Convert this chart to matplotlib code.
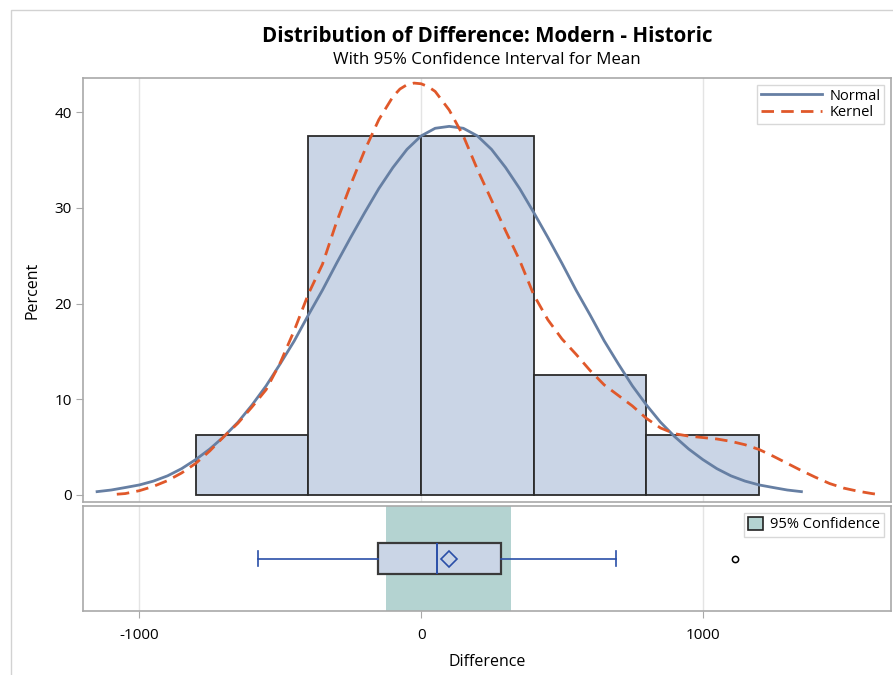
import matplotlib
matplotlib.use("Agg")
import matplotlib.pyplot as plt
from matplotlib.patches import Rectangle, Patch
from matplotlib.lines import Line2D

plt.rcParams['font.family'] = ['Open Sans', 'DejaVu Sans']

# histogram bins (left edges) and percent per bin
bin_left = [-800, -400, 0, 400, 800]
bin_width = 400
percent = [6.25, 37.5, 37.5, 12.5, 6.25]

# fitted normal curve (percent), every 50 units
normal_x = [-1150, -1100, -1050, -1000, -950, -900, -850, -800, -750, -700, -650, -600,
            -550, -500, -450, -400, -350, -300, -250, -200, -150, -100, -50, 0, 50, 100,
            150, 200, 250, 300, 350, 400, 450, 500, 550, 600, 650, 700, 750, 800, 850,
            900, 950, 1000, 1050, 1100, 1150, 1200, 1250, 1300, 1350]
normal_y = [0.35, 0.52, 0.78, 1.05, 1.45, 2.0, 2.75, 3.7, 4.8, 6.1, 7.6, 9.4,
            11.4, 13.7, 16.1, 18.8, 21.4, 24.2, 26.9, 29.5, 32.0, 34.2, 36.1, 37.5, 38.3,
            38.5, 38.3, 37.5, 36.1, 34.2, 32.0, 29.5, 26.9, 24.2, 21.4, 18.8, 16.1, 13.7,
            11.4, 9.4, 7.6, 6.1, 4.8, 3.7, 2.75, 2.0, 1.45, 1.05, 0.78, 0.52, 0.35]

# kernel density curve (percent)
kernel_x = [-1080, -1050, -1000, -950, -900, -850, -800, -750, -700, -650, -600, -550,
            -500, -450, -400, -350, -300, -250, -200, -150, -100, -75, -50, -25, 0, 25,
            50, 100, 150, 200, 250, 300, 350, 400, 450, 500, 550, 600, 650, 700, 750,
            800, 850, 900, 950, 1000, 1050, 1100, 1150, 1200, 1250, 1300, 1350, 1400,
            1450, 1500, 1550, 1600, 1620]
kernel_y = [0.08, 0.15, 0.45, 0.9, 1.5, 2.3, 3.3, 4.6, 6.1, 7.5, 9.2, 11.0,
            13.8, 17.2, 21.0, 24.1, 28.5, 32.4, 36.0, 39.2, 41.6, 42.4, 42.85, 43.02, 42.95,
            42.65, 42.15, 40.2, 37.5, 34.0, 30.8, 27.6, 24.5, 20.9, 18.3, 16.3, 14.7, 13.0,
            11.5, 10.4, 9.3, 8.0, 7.0, 6.4, 6.15, 6.0, 5.85, 5.6, 5.25, 4.75, 4.05, 3.3,
            2.55, 1.85, 1.2, 0.72, 0.4, 0.15, 0.07]

# box plot summary
box_stats = [dict(whislo=-578, q1=-154, med=58, q3=282, whishi=692, mean=99, fliers=[1114])]
ci_low, ci_high = -124, 318

bar_color = '#cad5e6'
normal_color = '#667fa3'
kernel_color = '#e0582a'
ci_color = '#b4d3d1'
blue = '#2a4fa8'
grid_color = '#e4e4e4'
frame_color = '#a9a9a9'
kernel_dash = (0, (4.5, 2.6))

fig = plt.figure(figsize=(8.93, 6.75), dpi=100)
ax = fig.add_axes([83 / 893, (675 - 501.7) / 675, 808 / 893, 423.4 / 675])
ax2 = fig.add_axes([83 / 893, (675 - 611) / 675, 808 / 893, 105 / 675], sharex=ax)

# main panel
for v in [-1000, 0, 1000]:
    ax.axvline(v, color=grid_color, lw=1, zorder=0)
ax.bar(bin_left, percent, width=bin_width, align='edge', color=bar_color,
       edgecolor='#2b2b2b', linewidth=1.3, zorder=2)
ax.plot(normal_x, normal_y, color=normal_color, lw=2.0, zorder=3)
ax.plot(kernel_x, kernel_y, color=kernel_color, lw=2.0, linestyle=kernel_dash, zorder=3)
ax.set_xlim(-1200, 1668)
ax.set_ylim(-0.7, 43.52)
ax.set_yticks([0, 10, 20, 30, 40])
ax.tick_params(axis='y', length=5, color=frame_color, labelsize=11, pad=3)
ax.tick_params(axis='x', length=0, labelbottom=False)
ax.set_ylabel('Percent', fontsize=11.5, labelpad=10)
for sp in ax.spines.values():
    sp.set_color(frame_color)
    sp.set_linewidth(1.2)

leg_handles = [Line2D([], [], color=normal_color, lw=2.0),
               Line2D([], [], color=kernel_color, lw=2.0, linestyle=kernel_dash)]
leg = ax.legend(leg_handles, ['Normal', 'Kernel'], loc='upper right', fontsize=10.5,
                frameon=True, fancybox=False, edgecolor='#cfcfcf', handlelength=4.2,
                handletextpad=0.5, borderpad=0.25, labelspacing=0.1, borderaxespad=0.45)
leg.get_frame().set_linewidth(1.0)

# box plot panel
for v in [-1000, 0, 1000]:
    ax2.axvline(v, color=grid_color, lw=1, zorder=0)
ax2.axvspan(ci_low, ci_high, color=ci_color, lw=0, zorder=1)
ax2.bxp(box_stats, positions=[0.5], widths=0.3, orientation='horizontal', showmeans=True,
        patch_artist=True, capwidths=0.15,
        boxprops=dict(facecolor=bar_color, edgecolor='#3a3a3a', linewidth=1.6),
        medianprops=dict(color=blue, linewidth=1.4),
        whiskerprops=dict(color=blue, linewidth=1.2),
        capprops=dict(color=blue, linewidth=1.2),
        meanprops=dict(marker='D', markerfacecolor='none', markeredgecolor=blue,
                       markersize=8, markeredgewidth=1.2),
        flierprops=dict(marker='o', markerfacecolor='none', markeredgecolor='black',
                        markersize=4.5, markeredgewidth=1.1),
        manage_ticks=False, zorder=3)
ax2.set_ylim(0, 1)
ax2.set_yticks([])
ax2.set_xticks([-1000, 0, 1000])
ax2.set_xticklabels(['-1000', '0', '1000'])
ax2.tick_params(axis='x', length=5, color=frame_color, labelsize=11, pad=7)
ax2.set_xlabel('Difference', fontsize=11.5, labelpad=8)
for sp in ax2.spines.values():
    sp.set_color(frame_color)
    sp.set_linewidth(1.2)
ax2.legend([Patch(facecolor=ci_color, edgecolor='#222222', linewidth=1.2)],
           ['95% Confidence'], loc='upper right', fontsize=10.5, frameon=True,
           fancybox=False, edgecolor='#cfcfcf', handlelength=1.0, handleheight=1.0,
           handletextpad=0.5, borderpad=0.3, borderaxespad=0.45)

fig.text(487 / 893, 1 - 37 / 675, 'Distribution of Difference: Modern - Historic',
         ha='center', va='center', fontsize=14.8, fontweight='bold')
fig.text(487 / 893, 1 - 60 / 675, 'With 95% Confidence Interval for Mean',
         ha='center', va='center', fontsize=12.2)

# outer page frame
fig.add_artist(Rectangle((11 / 893, -0.1), 2, 1.1 - 10 / 675, transform=fig.transFigure,
                         fill=False, edgecolor='#d2d2d2', linewidth=1.0))

fig.savefig('out.png', dpi=100)
